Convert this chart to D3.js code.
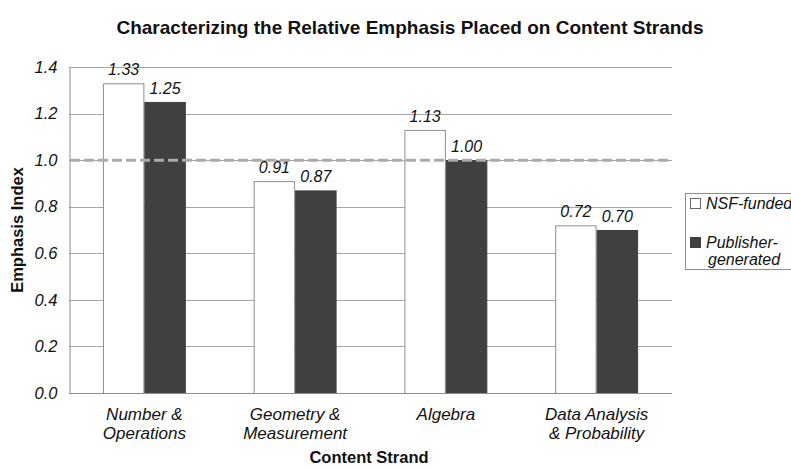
<!DOCTYPE html>
<html>
<head>
<meta charset="UTF-8">
<script src="https://cdn.jsdelivr.net/npm/d3@7"></script>
<style>
  body { margin: 0; background: #fff; }
  text { font-family: "Liberation Sans", Arial, sans-serif; }
</style>
</head>
<body>
<script>
    var categories = [["Number &", "Operations"], ["Geometry &", "Measurement"], ["Algebra"], ["Data Analysis", "& Probability"]];
    var seriesNames = ["NSF-funded", "Publisher-generated"];
    var nsfValues = [1.33, 0.91, 1.13, 0.72];
    var publisherValues = [1.25, 0.87, 1.00, 0.70];
    var yTicks = [0.0, 0.2, 0.4, 0.6, 0.8, 1.0, 1.2, 1.4];
    var referenceLine = 1.0;

    var width = 791, height = 470;
    var margin = { top: 67, right: 119, bottom: 77, left: 69 };
    var colors = ["#ffffff", "#404040"];

    var svg = d3.select("body").append("svg").attr("width", width).attr("height", height);

    var x = d3.scaleBand().domain(d3.range(categories.length))
        .range([margin.left, width - margin.right]).paddingInner(0.45).paddingOuter(0.225);
    var x1 = d3.scaleBand().domain([0, 1]).range([0, x.bandwidth()]);
    var y = d3.scaleLinear().domain([0, 1.4]).range([height - margin.bottom, margin.top]);

    // grid lines
    svg.append("g").selectAll("line").data(yTicks.filter(function(d) { return d > 0; })).enter().append("line")
        .attr("x1", margin.left).attr("x2", width - margin.right)
        .attr("y1", function(d) { return Math.round(y(d)) + 0.5; })
        .attr("y2", function(d) { return Math.round(y(d)) + 0.5; })
        .attr("stroke", "#a6a6a6").attr("stroke-width", 1);

    // y axis
    var yAxis = svg.append("g").attr("transform", "translate(" + (margin.left + 0.5) + ",0)")
        .call(d3.axisLeft(y).tickValues(yTicks).tickFormat(d3.format(".1f")).tickSize(0).tickPadding(12));
    yAxis.select(".domain").attr("stroke", "#8c8c8c");
    yAxis.selectAll("text").attr("font-size", "16.5px").attr("font-style", "italic").attr("fill", "#111");

    var rows = categories.map(function(c, i) { return [nsfValues[i], publisherValues[i]]; });

    var groups = svg.append("g").selectAll("g").data(rows).enter().append("g")
        .attr("transform", function(d, i) { return "translate(" + x(i) + ",0)"; });

    groups.selectAll("rect").data(function(d) { return d; }).enter().append("rect")
        .attr("x", function(d, j) { return x1(j) + 0.5; })
        .attr("y", function(d) { return y(d) + 0.5; })
        .attr("width", x1.bandwidth() - 1)
        .attr("height", function(d) { return y(0) - y(d); })
        .attr("fill", function(d, j) { return colors[j]; })
        .attr("stroke", function(d, j) { return j === 0 ? "#8c8c8c" : colors[1]; })
        .attr("stroke-width", 1);

    // x axis line
    svg.append("line").attr("x1", margin.left).attr("x2", width - margin.right)
        .attr("y1", Math.round(y(0)) + 0.5).attr("y2", Math.round(y(0)) + 0.5)
        .attr("stroke", "#8c8c8c");

    // dashed reference line
    svg.append("line").attr("x1", margin.left + 1).attr("x2", width - margin.right)
        .attr("y1", y(referenceLine)).attr("y2", y(referenceLine))
        .attr("stroke", "#ababab").attr("stroke-width", 3).attr("stroke-dasharray", "10,4");

    // value labels
    groups.selectAll("text.val").data(function(d) { return d; }).enter().append("text")
        .attr("class", "val")
        .attr("x", function(d, j) { return x1(j) + x1.bandwidth() / 2; })
        .attr("y", function(d) { return y(d) - 8; })
        .attr("text-anchor", "middle").attr("font-size", "16px").attr("font-style", "italic").attr("fill", "#111")
        .text(function(d) { return d.toFixed(2); });

    // category labels
    var catLabels = svg.append("g").selectAll("text").data(categories).enter().append("text")
        .attr("x", function(d, i) { return x(i) + x.bandwidth() / 2; })
        .attr("y", height - margin.bottom + 27)
        .attr("text-anchor", "middle").attr("font-size", "17px").attr("font-style", "italic").attr("fill", "#111");
    catLabels.selectAll("tspan").data(function(d) { return d; }).enter().append("tspan")
        .attr("x", function() { return d3.select(this.parentNode).attr("x"); })
        .attr("dy", function(d, k) { return k === 0 ? 0 : 19; })
        .text(function(d) { return d; });

    // titles
    svg.append("text").attr("x", 410).attr("y", 34).attr("text-anchor", "middle")
        .attr("font-size", "19px").attr("font-weight", "bold").attr("fill", "#111")
        .text("Characterizing the Relative Emphasis Placed on Content Strands");
    svg.append("text").attr("x", 369).attr("y", 463).attr("text-anchor", "middle")
        .attr("font-size", "16.5px").attr("font-weight", "bold").attr("fill", "#111")
        .text("Content Strand");
    svg.append("text").attr("transform", "translate(23," + ((margin.top + height - margin.bottom) / 2) + ") rotate(-90)")
        .attr("text-anchor", "middle").attr("font-size", "16.5px").attr("font-weight", "bold").attr("fill", "#111")
        .text("Emphasis Index");

    // legend
    var legend = svg.append("g").attr("transform", "translate(685,193)");
    legend.append("rect").attr("x", 0.5).attr("y", 0.5).attr("width", 120).attr("height", 76)
        .attr("fill", "#fff").attr("stroke", "#8c8c8c");
    var legendLines = [["NSF-funded"], ["Publisher-", "generated"]];
    var items = legend.selectAll("g.item").data(seriesNames).enter().append("g").attr("class", "item")
        .attr("transform", function(d, i) { return "translate(5," + (i === 0 ? 5 : 44) + ")"; });
    items.append("rect").attr("x", 0.5).attr("y", 0.5).attr("width", 10).attr("height", 10)
        .attr("fill", function(d, i) { return colors[i]; })
        .attr("stroke", function(d, i) { return i === 0 ? "#666" : colors[1]; });
    items.append("text").attr("x", 16).attr("y", 11)
        .attr("font-size", "16px").attr("font-style", "italic").attr("fill", "#111")
        .selectAll("tspan").data(function(d, i) { return legendLines[i]; }).enter().append("tspan")
        .attr("x", function(d, k) { return k === 0 ? 16 : 18; }).attr("dy", function(d, k) { return k === 0 ? 0 : 17; })
        .text(function(d) { return d; });
</script>
</body>
</html>
